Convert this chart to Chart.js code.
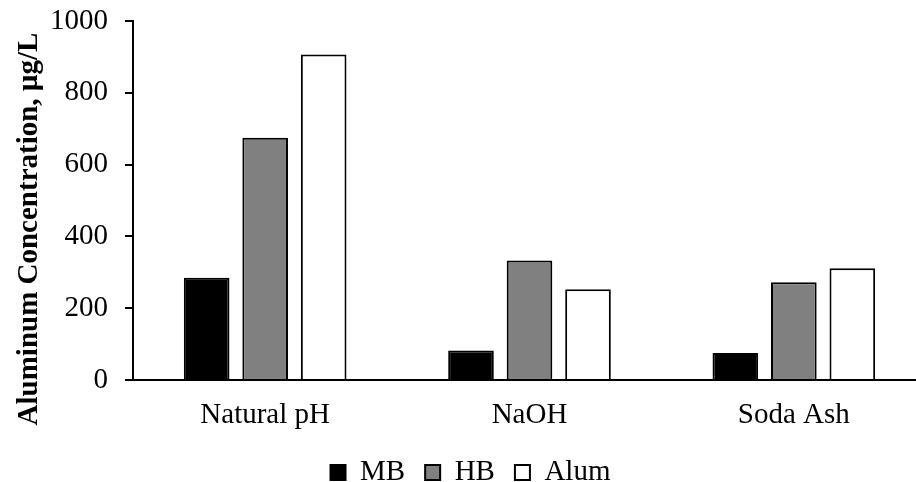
<!DOCTYPE html>
<html>
<head>
<meta charset="utf-8">
<script src="https://cdn.jsdelivr.net/npm/chart.js@4.4.0/dist/chart.umd.min.js"></script>
<style>
  html, body { margin: 0; padding: 0; background: #fff; overflow: hidden; }
  #wrap { width: 926px; height: 482px; }
</style>
</head>
<body>
<div id="wrap"><canvas id="bar-chart-al"></canvas></div>
<script>
var categories = ["Natural pH", "NaOH", "Soda Ash"];
var mbValues = [285, 82, 75];
var hbValues = [675, 333, 272];
var alumValues = [907, 253, 311];
var yTicks = [0, 200, 400, 600, 800, 1000];
var yTitle = "Aluminum Concentration, \u00b5g/L";

var serif = "'Liberation Serif', 'Times New Roman', serif";

// y title drawn by hand so it can sit lower than the axis centre, as in the original
var yTitlePlugin = {
    id: 'yTitle',
    afterDraw: function (chart) {
        var ctx = chart.ctx;
        ctx.save();
        ctx.font = "bold 29px " + serif;
        ctx.fillStyle = "#000";
        ctx.textAlign = "center";
        ctx.textBaseline = "alphabetic";
        ctx.translate(37, 229);
        ctx.rotate(-Math.PI / 2);
        ctx.fillText(yTitle, 0, 0);
        ctx.restore();
    }
};

var ctx = document.getElementById("bar-chart-al").getContext('2d');
var chart = new Chart(ctx, {
    type: 'bar',
    data: {
        labels: categories,
        datasets: [
            { label: "MB", data: mbValues, backgroundColor: "#000000", borderColor: "#000000", borderWidth: 2 },
            { label: "HB", data: hbValues, backgroundColor: "#808080", borderColor: "#000000", borderWidth: 2 },
            { label: "Alum", data: alumValues, backgroundColor: "#ffffff", borderColor: "#000000", borderWidth: 2 }
        ]
    },
    options: {
        responsive: true,
        maintainAspectRatio: false,
        animation: false,
        datasets: { bar: { categoryPercentage: 0.664, barPercentage: 0.78 } },
        layout: { padding: { top: 21, right: 0, bottom: -15, left: 15 } },
        plugins: {
            legend: {
                position: 'bottom',
                labels: {
                    color: "#000",
                    font: { family: serif, size: 29 },
                    boxWidth: 15,
                    boxHeight: 15,
                    padding: 20
                }
            },
            tooltip: { enabled: false }
        },
        scales: {
            x: {
                afterFit: function (scale) { scale.height = 58; },
                grid: { display: false, drawTicks: false },
                border: { display: true, color: "#000", width: 2 },
                ticks: { color: "#000", font: { family: serif, size: 29 }, padding: 18 }
            },
            y: {
                min: 0,
                max: 1000,
                afterBuildTicks: function (scale) {
                    scale.ticks = yTicks.map(function (v) { return { value: v }; });
                },
                afterFit: function (scale) {
                    scale.width = 118;
                    scale.paddingTop = 0;
                    scale.paddingBottom = 0;
                },
                grid: { drawOnChartArea: false, drawTicks: true, tickLength: 8, color: "#000", lineWidth: 2 },
                border: { display: true, color: "#000", width: 2 },
                ticks: {
                    color: "#000",
                    font: { family: serif, size: 29 },
                    padding: 17,
                    callback: function (value) { return String(value); }
                }
            }
        }
    },
    plugins: [yTitlePlugin]
});
</script>
</body>
</html>
